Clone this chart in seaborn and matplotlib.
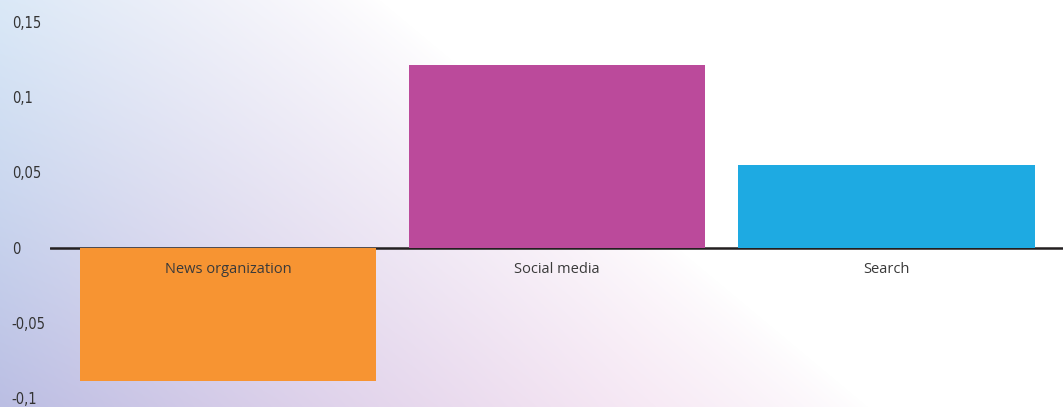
import seaborn as sns
import matplotlib.pyplot as plt
import numpy as np
import pandas as pd

categories = ['News organization', 'Social media', 'Search']
values = [-0.089, 0.1217, 0.0552]
colors = ['#f79432', '#bb4a9b', '#1eaae2']
yticks = [-0.1, -0.05, 0, 0.05, 0.1, 0.15]
ytick_labels = ['-0,1', '-0,05', '0', '0,05', '0,1', '0,15']

sns.set_theme(style='white', rc={'axes.facecolor': 'none', 'figure.facecolor': 'white'})
plt.rcParams['font.family'] = ['Open Sans', 'DejaVu Sans']

W, H = 1063, 407
fig = plt.figure(figsize=(W / 100, H / 100), dpi=100)

# soft diagonal background wash, fading to white towards the top right
yy, xx = np.mgrid[0:H, 0:W]
s = xx - 1.2 * yy
a = 0.62 * np.clip((380 - s) / 870, 0, 1) ** 0.8
u = np.clip(xx / 650, 0, 1)[..., None]
v = (yy / H)[..., None]
sky = np.array([140, 185, 230])
lav = np.array([145, 150, 210])
pink = np.array([215, 150, 205])
left = sky * (1 - v) + lav * v
base = left * (1 - u) + pink * u
img = 255 - a[..., None] * (255 - base)
bg = fig.add_axes([0, 0, 1, 1], zorder=-10)
bg.imshow(img.astype(np.uint8), aspect='auto', interpolation='bilinear')
bg.axis('off')

ax = fig.add_axes([50 / W, 1 - 398 / H, 1 - 50 / W, (398 - 22) / H])
df = pd.DataFrame({'category': categories, 'value': values})
sns.barplot(data=df, x='category', y='value', hue='category', palette=colors,
            width=0.9, legend=False, ax=ax, saturation=1, zorder=3, linewidth=0)
ax.axhline(0, color='#231f20', lw=1.8, zorder=2)

for i, (cat, val) in enumerate(zip(categories, values)):
    ax.annotate(cat, xy=(i, 0), xytext=(0, -15.5), textcoords='offset points',
                ha='center', va='center', fontsize=10.5, color='#3a3a3a', zorder=4)

ax.set_xlim(-0.54, 2.536)
ax.set_ylim(-0.1, 0.15)
ax.set_xticks([])
ax.set_yticks(yticks)
ax.set_yticklabels(ytick_labels, fontsize=10.5, color='#333333',
                   family='DejaVu Sans', fontstretch='condensed')
ax.tick_params(axis='y', length=0, pad=27.5)
for lbl in ax.get_yticklabels():
    lbl.set_horizontalalignment('left')
ax.set_xlabel('')
ax.set_ylabel('')
sns.despine(ax=ax, left=True, bottom=True)

fig.savefig('out.png', dpi=100)
